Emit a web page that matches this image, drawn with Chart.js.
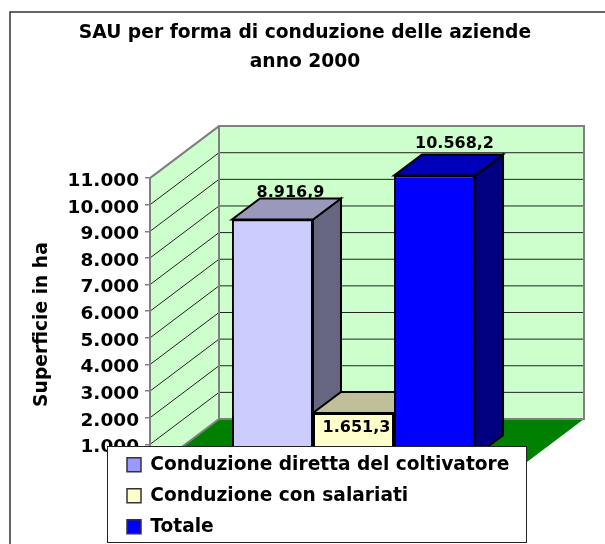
<!DOCTYPE html>
<html>
<head>
<meta charset="utf-8">
<title>SAU per forma di conduzione</title>
<script src="https://cdn.jsdelivr.net/npm/chart.js@4"></script>
<style>
  body { margin: 0; background: #fff; }
  canvas { display: block; }
</style>
</head>
<body>
<canvas id="chart" width="605" height="544"></canvas>
<script>
// data
var categories = ["anno 2000"];
var seriesNames = ["Conduzione diretta del coltivatore", "Conduzione con salariati", "Totale"];
var directValues = [8916.9];
var employeeValues = [1651.3];
var totalValues = [10568.2];

// colours of the faces
var frontColors = ["#CCCCFF", "#FFFFCC", "#0000FF"];
var topColors = ["#9999BB", "#BFBF99", "#0000BB"];
var sideColors = ["#666680", "#808066", "#000080"];
var legendColors = ["#9999FF", "#FFFFCC", "#0000FF"];

var font = "'DejaVu Sans', Verdana, sans-serif";

// depth of the floor, of the bars' position on it and of the bars themselves
var wallDx = 69, wallDy = -52;
var barDx = 21, barDy = -14;
var depthDx = 28, depthDy = -21;

// label offset from the centre / top of each bar's front face
var labelDx = [18, 3, 20];
var labelDy = [-23, 19, -28];

function formatLabel(v) {
  return v.toFixed(1).replace(".", ",").replace(/\B(?=(\d{3})+(?!\d))/, ".");
}

function poly(ctx, pts, fill, stroke, width) {
  ctx.beginPath();
  ctx.moveTo(pts[0][0], pts[0][1]);
  for (var i = 1; i < pts.length; i++) {
    ctx.lineTo(pts[i][0], pts[i][1]);
  }
  ctx.closePath();
  if (fill) {
    ctx.fillStyle = fill;
    ctx.fill();
  }
  if (stroke) {
    ctx.strokeStyle = stroke;
    ctx.lineWidth = width;
    ctx.lineJoin = "miter";
    ctx.stroke();
  }
}

var box3d = {
  id: "box3d",
  afterLayout: function (chart) {
    // title is centred on the page, the legend sits over the floor
    chart.titleBlock.left = 0;
    chart.titleBlock.right = 610;
    var legend = chart.legend;
    legend.left = 114.6;
    legend.top = 443;
    legend.right = 527;
    // roomy bottom, otherwise the last entry wraps to a new column
    legend.bottom = 620;
  },
  beforeDraw: function (chart) {
    var ctx = chart.ctx;
    ctx.save();
    ctx.strokeStyle = "#333333";
    ctx.lineWidth = 1.5;
    ctx.beginPath();
    ctx.moveTo(10, 544);
    ctx.lineTo(10, 12);
    ctx.lineTo(605, 12);
    ctx.stroke();
    ctx.restore();
  },
  beforeDatasetsDraw: function (chart) {
    var ctx = chart.ctx;
    var area = chart.chartArea;
    var y = chart.scales.y;
    var l = area.left, r = area.right, t = area.top, b = area.bottom;

    ctx.save();
    // floor
    poly(ctx, [[l, b], [l + wallDx, b + wallDy], [r + wallDx, b + wallDy], [r, b]], "#008000");
    // side wall and back wall
    poly(ctx, [[l, t], [l + wallDx, t + wallDy], [l + wallDx, b + wallDy], [l, b]], "#CCFFCC");
    poly(ctx, [[l + wallDx, t + wallDy], [r + wallDx, t + wallDy], [r + wallDx, b + wallDy], [l + wallDx, b + wallDy]], "#CCFFCC");

    // grid lines follow the walls
    ctx.strokeStyle = "#222222";
    ctx.lineWidth = 1;
    y.ticks.forEach(function (tick) {
      if (tick.value === 0 || tick.value === y.max) return;
      var py = y.getPixelForValue(tick.value);
      ctx.beginPath();
      ctx.moveTo(l, py);
      ctx.lineTo(l + wallDx, py + wallDy);
      ctx.lineTo(r + wallDx, py + wallDy);
      ctx.stroke();
    });

    // wall edges
    ctx.strokeStyle = "#808080";
    ctx.lineWidth = 2;
    ctx.beginPath();
    ctx.moveTo(l, b);
    ctx.lineTo(l, t);
    ctx.lineTo(l + wallDx, t + wallDy);
    ctx.lineTo(r + wallDx, t + wallDy);
    ctx.lineTo(r + wallDx, b + wallDy);
    ctx.lineTo(l + wallDx, b + wallDy);
    ctx.lineTo(l, b);
    ctx.moveTo(l + wallDx, t + wallDy);
    ctx.lineTo(l + wallDx, b + wallDy);
    ctx.stroke();

    // labels first, the top of the bar goes over them
    ctx.font = "bold 16px " + font;
    ctx.fillStyle = "#000";
    ctx.textAlign = "center";
    ctx.textBaseline = "alphabetic";
    chart.data.datasets.forEach(function (ds, i) {
      if (i === 1) return;
      var bar = chart.getDatasetMeta(i).data[0];
      ctx.fillText(formatLabel(ds.data[0]), bar.x + barDx + labelDx[i], bar.y + barDy + labelDy[i]);
    });

    // top and side faces of the bars, front faces come from Chart.js
    chart.data.datasets.forEach(function (ds, i) {
      var bar = chart.getDatasetMeta(i).data[0];
      var x0 = bar.x + barDx - bar.width / 2;
      var x1 = bar.x + barDx + bar.width / 2;
      var yt = bar.y + barDy;
      var yb = bar.base + barDy;
      poly(ctx, [[x1, yt], [x1 + depthDx, yt + depthDy], [x1 + depthDx, yb + depthDy], [x1, yb]], sideColors[i], "#000", 2);
      poly(ctx, [[x0, yt], [x0 + depthDx, yt + depthDy], [x1 + depthDx, yt + depthDy], [x1, yt]], topColors[i], "#000", 2);
    });
    ctx.restore();

    ctx.save();
    ctx.translate(barDx, barDy);
  },
  afterDatasetsDraw: function (chart) {
    chart.ctx.restore();
    var ctx = chart.ctx;
    // this label sits on the front face
    var bar = chart.getDatasetMeta(1).data[0];
    ctx.save();
    ctx.font = "bold 16px " + font;
    ctx.fillStyle = "#000";
    ctx.textAlign = "center";
    ctx.fillText(formatLabel(employeeValues[0]), bar.x + barDx + labelDx[1], bar.y + barDy + labelDy[1]);
    ctx.restore();
  },
  afterDraw: function (chart) {
    var ctx = chart.ctx;
    ctx.save();
    ctx.fillStyle = "#fff";
    ctx.strokeStyle = "#222222";
    ctx.lineWidth = 1;
    ctx.fillRect(108, 447, 419, 96);
    ctx.strokeRect(107.5, 446.5, 419, 96);
    ctx.restore();
    chart.legend.draw();
  }
};

new Chart(document.getElementById("chart"), {
  type: "bar",
  data: {
    labels: categories,
    datasets: [
      { label: seriesNames[0], data: directValues, backgroundColor: frontColors[0] },
      { label: seriesNames[1], data: employeeValues, backgroundColor: frontColors[1] },
      { label: seriesNames[2], data: totalValues, backgroundColor: frontColors[2] }
    ]
  },
  options: {
    responsive: false,
    animation: false,
    layout: { padding: { left: 0, top: 0, right: 90, bottom: 73 } },
    datasets: {
      bar: {
        categoryPercentage: 0.666,
        barPercentage: 1,
        borderColor: "#000",
        borderWidth: 2
      }
    },
    scales: {
      x: { display: false },
      y: {
        min: 0,
        max: 11000,
        afterFit: function (axis) {
          axis.width = 150;
        },
        border: { color: "#808080", width: 2 },
        grid: { drawOnChartArea: false, color: "#808080", tickLength: 5, lineWidth: 1.5 },
        ticks: {
          stepSize: 1000,
          padding: 6,
          labelOffset: 3,
          color: "#000",
          font: { family: font, size: 18.5, weight: "bold" },
          callback: function (v) {
            return v === 0 ? "0" : String(v).replace(/\B(?=(\d{3})+(?!\d))/, ".");
          }
        },
        title: {
          display: true,
          text: "Superficie in ha",
          color: "#000",
          font: { family: font, size: 18.7, weight: "bold" },
          padding: { top: 31, bottom: 0 }
        }
      }
    },
    plugins: {
      tooltip: { enabled: false },
      title: {
        display: true,
        text: ["SAU per forma di conduzione delle aziende", "anno 2000"],
        color: "#000",
        font: { family: font, size: 18.7, weight: "bold", lineHeight: 1.5 },
        padding: { top: 19.6, bottom: 102.4 }
      },
      legend: {
        position: "chartArea",
        align: "start",
        labels: {
          boxWidth: 14,
          boxHeight: 14,
          padding: 12.4,
          color: "#000",
          font: { family: font, size: 18.6, weight: "bold" },
          generateLabels: function (chart) {
            return chart.data.datasets.map(function (ds, i) {
              return {
                text: ds.label,
                fillStyle: legendColors[i],
                strokeStyle: "#333333",
                lineWidth: 1.5,
                fontColor: "#000",
                datasetIndex: i
              };
            });
          }
        }
      }
    }
  },
  plugins: [box3d]
});
</script>
</body>
</html>
